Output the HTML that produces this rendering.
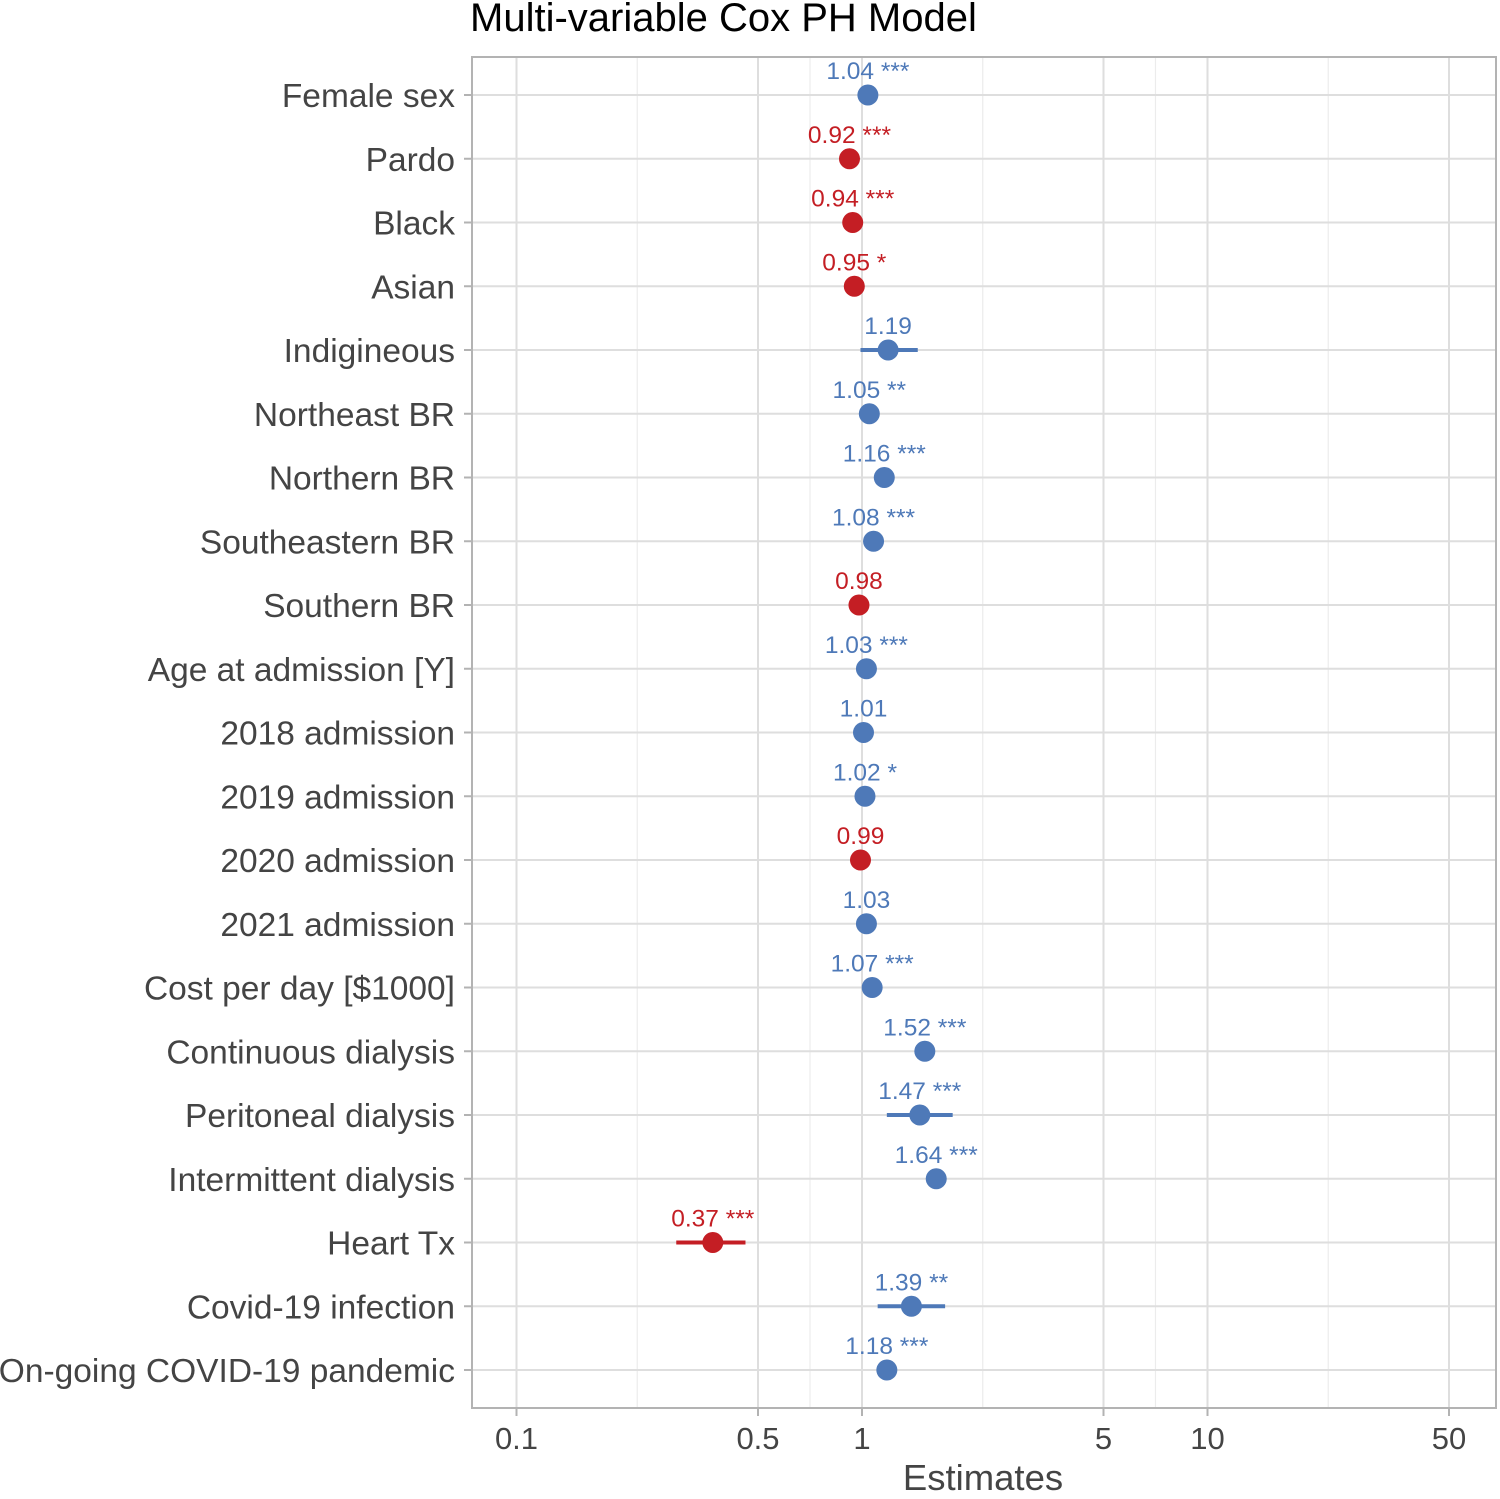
<!DOCTYPE html>
<html><head><meta charset="utf-8"><style>
body{margin:0;background:#fff}
svg{font-family:"Liberation Sans",Arial,sans-serif}
</style></head><body>
<svg id="chart" width="1500" height="1494" xmlns="http://www.w3.org/2000/svg">
<text x="470" y="31" font-size="40" fill="#000">Multi-variable Cox PH Model</text>
<g id="grid"></g><g id="marks"></g><g id="axes"></g>
<text x="983" y="1490" font-size="36.5" fill="#444" text-anchor="middle">Estimates</text>
</svg>
<script>
const categories=["Female sex","Pardo","Black","Asian","Indigineous","Northeast BR","Northern BR","Southeastern BR","Southern BR","Age at admission [Y]","2018 admission","2019 admission","2020 admission","2021 admission","Cost per day [$1000]","Continuous dialysis","Peritoneal dialysis","Intermittent dialysis","Heart Tx","Covid-19 infection","On-going COVID-19 pandemic"];
const estimates=[1.04,0.92,0.94,0.95,1.19,1.05,1.16,1.08,0.98,1.03,1.01,1.02,0.99,1.03,1.07,1.52,1.47,1.64,0.37,1.39,1.18];
const ciLow=[1.02,0.90,0.92,0.91,0.99,1.02,1.12,1.05,0.95,1.02,0.98,1.00,0.96,0.99,1.05,1.45,1.18,1.58,0.29,1.11,1.15];
const ciHigh=[1.06,0.94,0.96,0.99,1.45,1.08,1.20,1.11,1.01,1.04,1.04,1.04,1.02,1.07,1.09,1.59,1.83,1.70,0.46,1.74,1.21];
const stars=["***","***","***","*","","**","***","***","","***","","*","","","***","***","***","***","***","**","***"];
const majorTicks=[0.1,0.5,1,5,10,50];
const tickLabels=["0.1","0.5","1","5","10","50"];
const NS="http://www.w3.org/2000/svg";
const L=472,R=1496,T=57,B=1408;
function xs(v){return 862+345.5*Math.log10(v);}
function ys(i){return 95+i*63.75;}
function mk(tag,at,parent){const e=document.createElementNS(NS,tag);for(const k in at)e.setAttribute(k,at[k]);parent.appendChild(e);return e;}
const grid=document.getElementById('grid'),marks=document.getElementById('marks'),axes=document.getElementById('axes');
for(let i=0;i<majorTicks.length-1;i++){const m=Math.sqrt(majorTicks[i]*majorTicks[i+1]);
 const l=mk('line',{x1:xs(m),x2:xs(m),y1:T,y2:B,stroke:'#ececec','stroke-width':1.2},grid);
 
 }
majorTicks.forEach((t,i)=>{
 const l=mk('line',{x1:xs(t),x2:xs(t),y1:T,y2:B,stroke:'#dedede','stroke-width':2},grid);
 
 
 const tk=mk('line',{x1:xs(t),x2:xs(t),y1:B,y2:B+8,stroke:'#b3b3b3','stroke-width':2},axes);
 
 
 const tx=mk('text',{x:xs(t),y:B+41,'font-size':31,fill:'#444','text-anchor':'middle'},axes);
 tx.textContent=tickLabels[i];
 
 
});
categories.forEach((c,i)=>{
 const y=ys(i);
 const g=mk('line',{x1:L,x2:R,y1:y,y2:y,stroke:'#dedede','stroke-width':2},grid);
 
 
 const tk=mk('line',{x1:L-8,x2:L,y1:y,y2:y,stroke:'#b3b3b3','stroke-width':2},axes);
 
 
 const lb=mk('text',{x:L-17,y:y+12,'font-size':33.5,fill:'#444','text-anchor':'end'},axes);
 lb.textContent=c;
 
 
 const col=estimates[i]<1?'#c41e24':'#4e79b8';
 const ci=mk('line',{x1:xs(ciLow[i]),x2:xs(ciHigh[i]),y1:y,y2:y,stroke:col,'stroke-width':4},marks);
 
 
 const d=mk('circle',{cx:xs(estimates[i]),cy:y,r:10.5,fill:col},marks);
 
 
 const t=mk('text',{x:xs(estimates[i]),y:y-16,'font-size':24.5,fill:col,'text-anchor':'middle'},marks);
 t.textContent=estimates[i].toFixed(2)+(stars[i]?' '+stars[i]:'');
 
 
});
const fr=mk('rect',{x:L,y:T,width:R-L,height:B-T,fill:'none',stroke:'#b3b3b3','stroke-width':2},axes);


</script>
</body></html>
